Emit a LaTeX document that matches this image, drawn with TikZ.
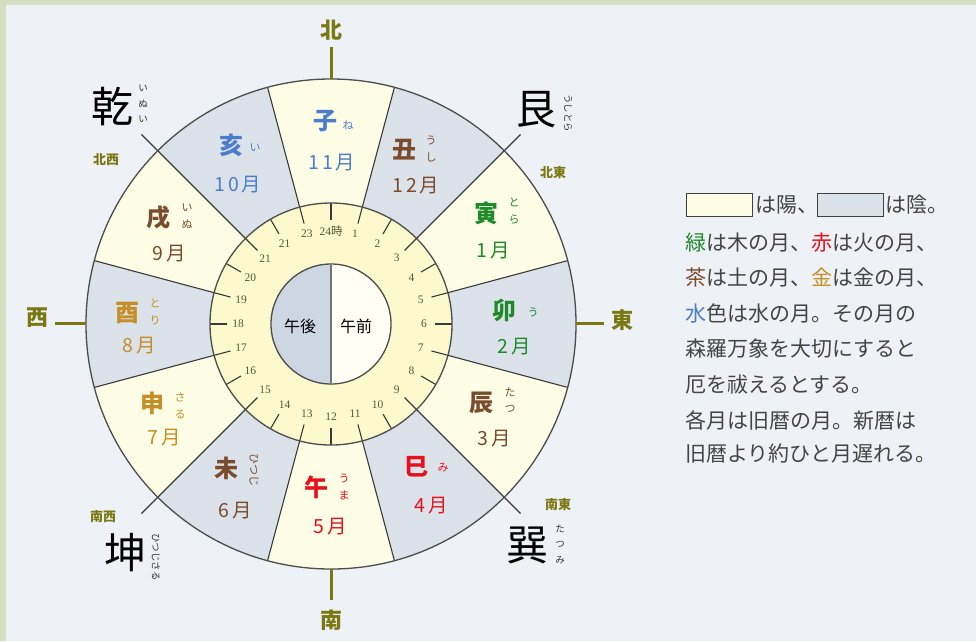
\documentclass[tikz,border=0pt]{standalone}
\usepackage{fontspec}
\setmainfont{Liberation Serif}
\newfontfamily\cjk{Noto Sans CJK JP}
\newfontfamily\cjkm[LetterSpace=14]{Noto Sans CJK JP}
\usetikzlibrary{calc}
\definecolor{bgc}{HTML}{EEF1F5}
\definecolor{band}{HTML}{D5E0C3}
\definecolor{yang}{HTML}{FEFEE6}
\definecolor{yin}{HTML}{DCE2EA}
\definecolor{ringc}{HTML}{FCF9CC}
\definecolor{inl}{HTML}{CDD7E3}
\definecolor{inr}{HTML}{FFFFF6}
\definecolor{linec}{HTML}{3A3A3A}
\definecolor{olive}{HTML}{7A7812}
\definecolor{tickc}{HTML}{5A5632}
\definecolor{cblue}{HTML}{4C7CCB}
\definecolor{cgreen}{HTML}{1E8A2A}
\definecolor{cbrown}{HTML}{7A4B2C}
\definecolor{cred}{HTML}{E8101C}
\definecolor{cgold}{HTML}{C58E26}
\definecolor{txt}{HTML}{444444}
\tikzset{
 kan/.style={font=\cjk\bfseries\fontsize{24}{26}\selectfont, inner sep=0pt},
 mon/.style={font=\cjkm\fontsize{19.5}{21}\selectfont, inner sep=0pt},
 furi/.style={font=\cjk\fontsize{11}{16.5}\selectfont, inner sep=0pt, align=center},
 bigkan/.style={font=\cjk\fontsize{42}{44}\selectfont, inner sep=0pt, text=black},
 bfuri/.style={font=\cjk\fontsize{9.5}{15.5}\selectfont, inner sep=0pt, align=center, text=black!80},
 dirsm/.style={font=\cjk\bfseries\fontsize{13}{14}\selectfont, text=olive, inner sep=0pt},
 dirbig/.style={font=\cjk\bfseries\fontsize{22}{23}\selectfont, text=olive, inner sep=0pt},
 dirline/.style={olive, line width=3pt},
 bline/.style={linec, line width=1.1pt},
 ringline/.style={draw=black!70, line width=1.3pt},
 hrlab/.style={font=\fontsize{11.5}{12}\selectfont, text=tickc, inner sep=0pt},
 legtext/.style={font=\cjk\fontsize{21}{23}\selectfont, text=txt, anchor=west, inner sep=0pt},
 legbox/.style={draw=black!75, line width=1.1pt, minimum width=66pt, minimum height=23pt, inner sep=0pt},
}
\begin{document}
\begin{tikzpicture}[x=1pt,y=-1pt]
\fill[bgc] (0,0) rectangle (976,641);
\fill[band] (0,0) rectangle (976,5);
\fill[band] (0,0) rectangle (6,641);
\useasboundingbox (0,0) rectangle (976,641);

\coordinate (C) at (331,324);
\begin{scope}[shift={(C)}]
  \fill[yang] (0,0) circle[radius=245];
  \foreach \k in {1,3,5,7,9,11}{
    \pgfmathsetmacro\a{\k*30-90}
    \fill[yin] (\a-15:100) -- (\a-15:245) arc[start angle=\a-15, end angle=\a+15, radius=245] -- (\a+15:100) -- cycle;
  }
  \fill[ringc] (0,0) circle[radius=121];
  \foreach \h in {1,3,...,23}{
    \draw[bline] (\h*15-90:104) -- (\h*15-90:245);
  }
  \foreach \h in {3,9,15,21}{
    \draw[bline] (\h*15-90:245) -- (\h*15-90:268);
  }
  \foreach \h in {2,4,...,24}{
    \draw[bline] (\h*15-90:104) -- (\h*15-90:121);
  }
  \draw[ringline] (0,0) circle[radius=245];
  \draw[ringline] (0,0) circle[radius=121];
  \foreach \h/\t in {1/1,2/2,3/3,4/4,5/5,6/6,7/7,8/8,9/9,10/10,11/11,12/12,13/13,14/14,15/15,16/16,17/17,18/18,19/19,20/20,21/21,22/21,23/23,24/{24{\cjk 時}}}{
    \node[hrlab] (hr\h) at (\h*15-90:93) {\t};
  }
  \fill[inl] (90:60) arc[start angle=90, end angle=270, radius=60] -- cycle;
  \fill[inr] (-90:60) arc[start angle=-90, end angle=90, radius=60] -- cycle;
  \draw[ringline] (0,0) circle[radius=60];
  \draw[black!55, line width=2.2pt] (90:59) -- (-90:59);
  \node[font=\cjk\fontsize{16}{17}\selectfont, inner sep=0pt] (pm) at (-31,2) {午後};
  \node[font=\cjk\fontsize{16}{17}\selectfont, inner sep=0pt] (am) at (25,2) {午前};
\end{scope}

% zodiac sectors
\node[kan, text=cblue] (ne) at (325,121) {子};
\node[furi, text=cblue] (nef) at (348,125) {ね};
\node[mon, text=cblue] (nem) at (332,163) {11月};

\node[kan, text=cbrown] (us) at (404,150) {丑};
\node[furi, text=cbrown] (usf) at (431,149) {う\\し};
\node[mon, text=cbrown] (usm) at (416,186) {12月};

\node[kan, text=cgreen] (to) at (486,213) {寅};
\node[furi, text=cgreen] (tof) at (514,211) {と\\ら};
\node[mon, text=cgreen] (tom) at (493,251) {1月};

\node[kan, text=cgreen] (u) at (504,310) {卯};
\node[furi, text=cgreen] (uf) at (533,312) {う};
\node[mon, text=cgreen] (um) at (514,347) {2月};

\node[kan, text=cbrown] (ta) at (481,403) {辰};
\node[furi, text=cbrown] (taf) at (510,400) {た\\つ};
\node[mon, text=cbrown] (tam) at (494,439) {3月};

\node[kan, text=cred] (mi) at (416,467) {巳};
\node[furi, text=cred] (mif) at (443,468) {み};
\node[mon, text=cred] (mim) at (431,506) {4月};

\node[kan, text=cred] (uma) at (316,487) {午};
\node[furi, text=cred] (umaf) at (344,487) {う\\ま};
\node[mon, text=cred] (umam) at (330,527) {5月};

\node[kan, text=cbrown] (hi) at (226,468) {未};
\node[furi, text=cbrown, rotate=-90] (hif) at (254,470) {ひつじ};
\node[mon, text=cbrown] (him) at (235,511) {6月};

\node[kan, text=cgold] (sa) at (152,403) {申};
\node[furi, text=cgold] (saf) at (180,406) {さ\\る};
\node[mon, text=cgold] (sam) at (164,438) {7月};

\node[kan, text=cgold] (tori) at (127,313) {酉};
\node[furi, text=cgold] (torif) at (155,312) {と\\り};
\node[mon, text=cgold] (torim) at (139,346) {8月};

\node[kan, text=cbrown] (inu) at (158,218) {戌};
\node[furi, text=cbrown] (inuf) at (187,216) {い\\ぬ};
\node[mon, text=cbrown] (inum) at (169,254) {9月};

\node[kan, text=cblue] (i) at (231,145) {亥};
\node[furi, text=cblue] (iff) at (255,148) {い};
\node[mon, text=cblue] (im) at (238,185) {10月};

% compass
\node[dirbig] (kita) at (331,30) {北};
\coordinate (kitaA) at (331,47); \coordinate (kitaB) at (331,79);
\draw[dirline] (kitaA) -- (kitaB);
\node[dirbig] (minami) at (331,620) {南};
\coordinate (minA) at (331,569); \coordinate (minB) at (331,600);
\draw[dirline] (minA) -- (minB);
\node[dirbig] (nishi) at (37,318) {西};
\coordinate (nisA) at (55,323); \coordinate (nisB) at (86,323);
\draw[dirline] (nisA) -- (nisB);
\node[dirbig] (higashi) at (622,320) {東};
\coordinate (higA) at (576,323); \coordinate (higB) at (604,323);
\draw[dirline] (higA) -- (higB);

% corners
\node[bigkan] (inui) at (112,107) {乾};
\node[bfuri] (inuif) at (143,104) {い\\ぬ\\い};
\node[dirsm] (hokusei) at (106,160) {北西};

\node[bigkan] (ushitora) at (536,110) {艮};
\node[bfuri, rotate=-90] (ushitoraf) at (568,113) {うしとら};
\node[dirsm] (hokuto) at (553,173) {北東};

\node[bigkan] (tatsumi) at (527,545) {巽};
\node[bfuri] (tatsumif) at (560,544) {た\\つ\\み};
\node[dirsm] (nanto) at (558,505) {南東};

\node[bigkan] (hitsujisaru) at (125,553) {坤};
\node[bfuri, rotate=-90] (hitsujisaruf) at (156,557) {ひつじさる};
\node[dirsm] (nansei) at (103,517) {南西};

% legend
\node[legbox, fill=yang, anchor=north west] (b1) at (686,193) {};
\node[legtext] (l1a) at (755,205) {は陽、};
\node[legbox, fill=yin, anchor=north west] (b2) at (817,193) {};
\node[legtext] (l1b) at (885,205) {は陰。};
\node[legtext] (l2) at (685,243) {\textcolor{cgreen}{緑}は木の月、\textcolor{cred}{赤}は火の月、};
\node[legtext] (l3) at (685,278) {\textcolor{cbrown}{茶}は土の月、\textcolor{cgold}{金}は金の月、};
\node[legtext] (l4) at (685,313) {\textcolor{cblue}{水}色は水の月。その月の};
\node[legtext] (l5) at (685,349) {森羅万象を大切にすると};
\node[legtext] (l6) at (685,385) {厄を祓えるとする。};
\node[legtext] (l7) at (685,420) {各月は旧暦の月。新暦は};
\node[legtext] (l8) at (685,454) {旧暦より約ひと月遅れる。};
\end{tikzpicture}
\end{document}
